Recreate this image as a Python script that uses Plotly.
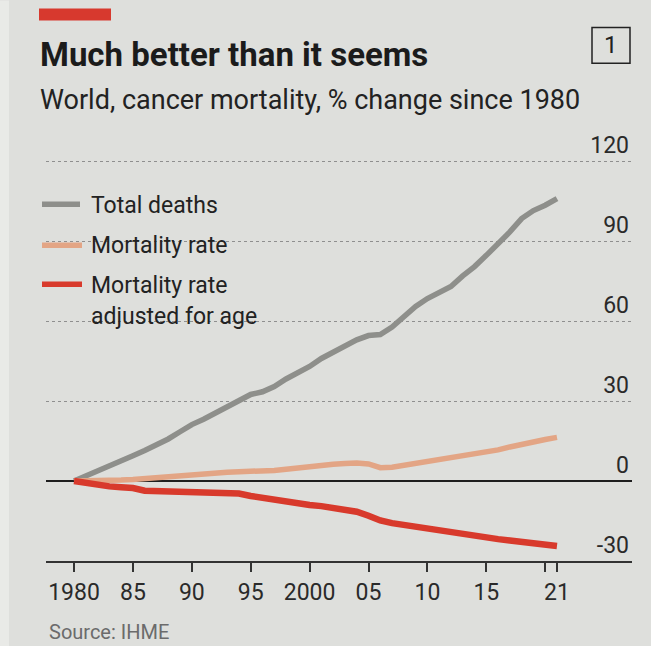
import plotly.graph_objects as go

years = list(range(1980, 2022))

total_deaths = [0, 1.8, 3.8, 5.7, 7.6, 9.5, 11.5, 13.5, 15.8, 18.5,
                21.2, 23.2, 25.5, 27.8, 30.5, 32.5, 33.5, 35.5, 38.3, 40.5,
                43.0, 46.0, 48.3, 50.5, 53.0, 54.6, 55.0, 57.8, 61.5, 65.5,
                68.5, 70.5, 73.0, 77.0, 80.5, 84.7, 89.0, 93.5, 98.5, 101.5,
                103.5, 106.0]

mortality_rate = [0, 0, 0.1, 0.2, 0.4, 0.6, 1.0, 1.4, 1.8, 2.1,
                  2.4, 2.7, 3.0, 3.3, 3.5, 3.5, 3.7, 4.0, 4.4, 5.0,
                  5.6, 6.0, 6.3, 6.6, 6.8, 6.4, 5.0, 5.2, 5.9, 6.6,
                  7.2, 7.8, 8.4, 9.1, 9.8, 10.7, 11.7, 12.8, 13.9, 14.9,
                  15.6, 16.4]

age_adjusted = [0, -0.8, -1.5, -2.0, -2.3, -2.6, -3.6, -3.8, -3.8, -3.9,
                -4.0, -4.0, -4.2, -4.5, -4.7, -5.6, -6.4, -7.0, -7.6, -8.4,
                -9.0, -9.4, -9.9, -10.5, -11.5, -13.0, -14.8, -15.8, -16.5, -17.2,
                -18.0, -18.8, -19.6, -20.2, -20.8, -21.3, -21.8, -22.3, -22.8, -23.4,
                -23.9, -24.4]

x_tickvals = [1980, 1985, 1990, 1995, 2000, 2005, 2010, 2015, 2020, 2021]
x_ticktext = ["1980", "85", "90", "95", "2000", "05", "10", "15", "", "21"]
y_tickvals = [-30, 0, 30, 60, 90, 120]
y_ticktext = ["-30", "0", "30", "60", "90", "120"]

series_names = ["Total deaths", "Mortality rate", "Mortality rate<br>adjusted for age"]
series_colors = ["#8e8f8b", "#e3a585", "#d83a2c"]

title_text = "Much better than it seems"
subtitle_text = "World, cancer mortality, % change since 1980"
source_text = "Source: IHME"

PAPER = "#dedfdc"
FONT = "Roboto"

W, H = 651, 646
Y_MIN, Y_MAX = -30, 140
L, R, B = 46, 632, 561
PX_PER_UNIT = 80 / 30.0
T = B - (Y_MAX - Y_MIN) * PX_PER_UNIT


def px(x):
    return (x - L) / (R - L)


def py(y):
    return (B - y) / (B - T)


fig = go.Figure()
for vals, name, col, w in zip([total_deaths, mortality_rate, age_adjusted],
                              series_names, series_colors, [5.5, 5.5, 6.5]):
    fig.add_trace(go.Scatter(x=years, y=vals, mode="lines", name=name,
                             line=dict(color=col, width=w), showlegend=False,
                             hoverinfo="skip"))

shapes = []
# lighter strip at the left edge of the page
shapes.append(dict(type="rect", xref="paper", yref="paper", x0=px(0), x1=px(9),
                   y0=py(646), y1=py(0), fillcolor="#e9eae7", line=dict(width=0), layer="below"))
# mask behind legend (hides gridlines)
shapes.append(dict(type="rect", xref="paper", yref="y", x0=px(40), x1=px(272),
                   y0=40, y1=100, fillcolor=PAPER, line=dict(width=0), layer="between"))
# red bar
shapes.append(dict(type="rect", xref="paper", yref="paper", x0=px(39), x1=px(111),
                   y0=py(20), y1=py(8), fillcolor="#d7392e", line=dict(width=0)))
# box around "1"
shapes.append(dict(type="rect", xref="paper", yref="paper", x0=px(592), x1=px(630),
                   y0=py(63), y1=py(27), line=dict(color="#222", width=1.5)))
# legend samples
leg_y = [204, 245, 284]
leg_x1 = [80, 82, 82]
for yy, x1, col in zip(leg_y, leg_x1, series_colors):
    shapes.append(dict(type="line", xref="paper", yref="paper", x0=px(42), x1=px(x1),
                       y0=py(yy), y1=py(yy), line=dict(color=col, width=5.5)))

annotations = []
annotations.append(dict(text="<b>" + title_text + "</b>", xref="paper", yref="paper",
                        x=px(38), y=py(54), xanchor="left", yanchor="middle",
                        showarrow=False, font=dict(family=FONT, size=33, color="#1b1b1b")))
annotations.append(dict(text=subtitle_text, xref="paper", yref="paper",
                        x=px(38), y=py(100), xanchor="left", yanchor="middle",
                        showarrow=False, font=dict(family=FONT, size=27, color="#222")))
annotations.append(dict(text="1", xref="paper", yref="paper",
                        x=px(611), y=py(45), xanchor="center", yanchor="middle",
                        showarrow=False, font=dict(family=FONT, size=24, color="#222")))
annotations.append(dict(text=source_text, xref="paper", yref="paper",
                        x=px(47), y=py(632), xanchor="left", yanchor="middle",
                        showarrow=False, font=dict(family=FONT, size=20, color="#6b6b6b")))
leg_text_y = [205, 245, 285, 316]
leg_texts = ["Total deaths", "Mortality rate", "Mortality rate", "adjusted for age"]
for yy, t in zip(leg_text_y, leg_texts):
    annotations.append(dict(text=t, xref="paper", yref="paper", x=px(89), y=py(yy),
                            xanchor="left", yanchor="middle", showarrow=False,
                            font=dict(family=FONT, size=23, color="#222")))

fig.update_layout(
    width=W, height=H,
    margin=dict(l=L, r=W - R, t=T, b=H - B, pad=0),
    paper_bgcolor=PAPER, plot_bgcolor=PAPER,
    shapes=shapes, annotations=annotations,
    xaxis=dict(range=[1977.62, 2027.37], tickvals=x_tickvals, ticktext=x_ticktext,
               ticks="outside", ticklen=9, tickwidth=1.5, tickcolor="#333",
               showline=True, linecolor="#333", linewidth=2, showgrid=False,
               zeroline=False, tickfont=dict(family=FONT, size=23, color="#2a2a2a")),
    yaxis=dict(range=[Y_MIN, Y_MAX], tickvals=y_tickvals, ticktext=y_ticktext, side="right",
               ticklabelposition="inside", ticklabelshift=-16, ticks="",
               showgrid=True, gridcolor="#8f8f8f", gridwidth=1, griddash="dot",
               zeroline=True, zerolinecolor="#1e1e1e", zerolinewidth=1.6,
               showline=False, tickfont=dict(family=FONT, size=23, color="#2a2a2a")),
    showlegend=False,
)

fig.write_html("out.html",
               config={"displayModeBar": False},
               post_script="document.body.style.margin='0px';"
                           "document.body.style.background='" + PAPER + "';")
